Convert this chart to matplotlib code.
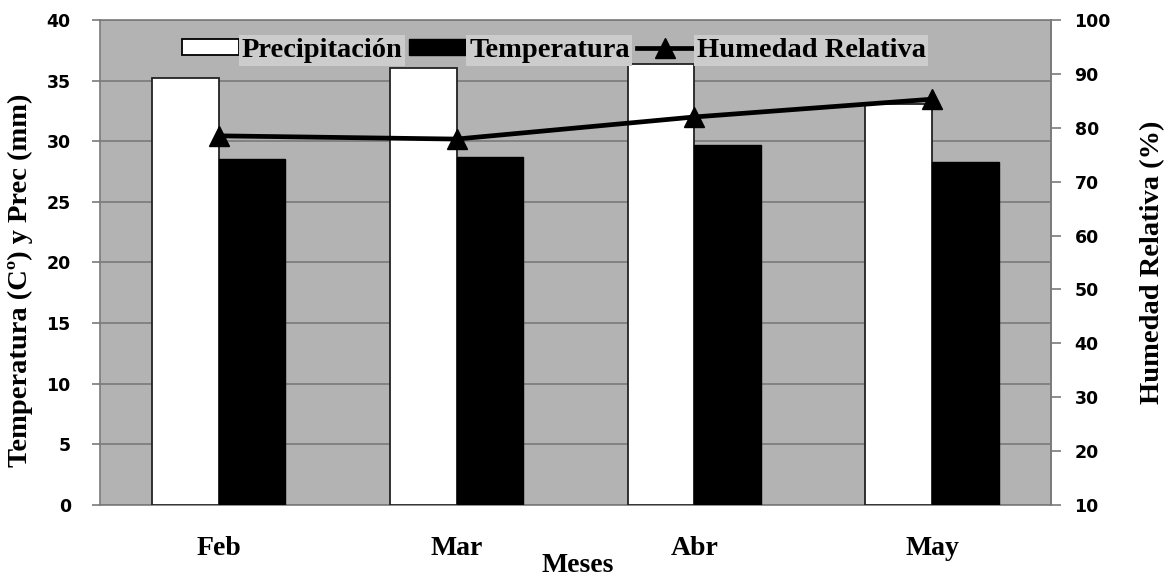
import matplotlib
matplotlib.use("Agg")
import matplotlib.pyplot as plt
import numpy as np
from matplotlib.lines import Line2D
from matplotlib.patches import Patch

# Data
months = ["Feb", "Mar", "Abr", "May"]
precip = [35.2, 36.0, 36.4, 33.1]
temp = [28.5, 28.7, 29.7, 28.3]
humidity = [78.5, 77.9, 82.0, 85.3]

left_ticks = np.arange(0, 41, 5)
right_ticks = np.arange(10, 101, 10)

SERIF = "Liberation Serif"
SANS = "DejaVu Sans"
BG = "#b3b3b3"
GRID = "#7a7a7a"

fig = plt.figure(figsize=(11.69, 5.84), dpi=100)
ax = fig.add_axes([0.0855, 0.1353, 0.8135, 0.8305])
ax.set_facecolor(BG)

x = np.arange(len(months))
w = 0.28
ax.bar(x - w / 2, precip, w, color="white", edgecolor="#222222", linewidth=1.3, zorder=3)
ax.bar(x + w / 2, temp, w, color="black", edgecolor="black", linewidth=1.0, zorder=3)

ax.set_xlim(-0.5, len(months) - 0.5)
ax.set_ylim(0, 40)
ax.set_yticks(left_ticks)
ax.yaxis.grid(True, color=GRID, linewidth=1.2, zorder=1)
ax.set_axisbelow(True)
ax.set_xticks(x)
ax.set_xticklabels(months, fontfamily=SERIF, fontweight="bold", fontsize=20)
ax.tick_params(axis="x", length=0, pad=22)
ax.tick_params(axis="y", length=6, color=GRID, width=1.2, pad=15)
for lbl in ax.get_yticklabels():
    lbl.set_fontfamily(SANS)
    lbl.set_fontweight("bold")
    lbl.set_fontsize(12.5)
for s in ax.spines.values():
    s.set_color(GRID)
    s.set_linewidth(1.2)

ax.set_ylabel("Temperatura (Cº) y Prec (mm)", fontfamily=SERIF, fontweight="bold",
              fontsize=20.5)
ax.yaxis.set_label_coords(-0.0705, 0.464)
ax.set_xlabel("Meses", fontfamily=SERIF, fontweight="bold", fontsize=20)
ax.xaxis.set_label_coords(0.502, -0.098)

ax2 = ax.twinx()
ax2.plot(x, humidity, color="black", linewidth=3.4, marker="^",
         markersize=14, zorder=5)
ax2.set_ylim(10, 100)
ax2.set_yticks(right_ticks)
ax2.tick_params(axis="y", length=7, color=GRID, width=1.2, pad=10)
for lbl in ax2.get_yticklabels():
    lbl.set_fontfamily(SANS)
    lbl.set_fontweight("bold")
    lbl.set_fontsize(12.5)
for s in ax2.spines.values():
    s.set_visible(False)
ax2.spines["right"].set_visible(True)
ax2.spines["right"].set_color(GRID)
ax2.spines["right"].set_linewidth(1.2)
ax2.set_ylabel("Humedad Relativa (%)", fontfamily=SERIF, fontweight="bold",
               fontsize=20.5)
ax2.yaxis.set_label_coords(1.0936, 0.5)

handles = [
    Patch(facecolor="white", edgecolor="black", linewidth=1.3),
    Patch(facecolor="black", edgecolor="black"),
    Line2D([0], [0], color="black", linewidth=3.4, marker="^", markersize=14),
]
leg = ax2.legend(handles, ["Precipitación", "Temperatura", "Humedad Relativa"],
                 loc="upper center", bbox_to_anchor=(0.477, 0.986), borderaxespad=0,
                 ncol=3, frameon=False, handlelength=2.0, handleheight=0.45,
                 handletextpad=0.1, columnspacing=0.25,
                 prop={"family": SERIF, "weight": "bold", "size": 20.5})
for t in leg.get_texts():
    t.set_bbox(dict(facecolor="#cccccc", edgecolor="none", pad=2))

fig.savefig("out.png", dpi=100)
